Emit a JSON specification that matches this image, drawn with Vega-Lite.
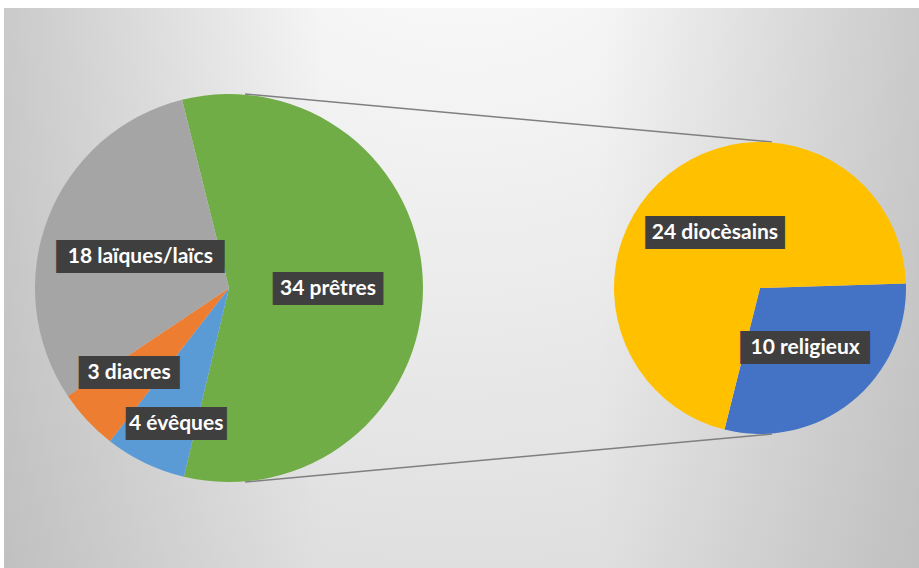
{
  "$schema": "https://vega.github.io/schema/vega-lite/v6.json",
  "width": 915,
  "height": 560,
  "autosize": {"type": "none"},
  "padding": {"left": 4, "top": 8, "right": 0, "bottom": 0},
  "background": "#ffffff",
  "config": {"view": {"stroke": "#bdbdbd", "strokeWidth": 1}},
  "data": {
    "values": [
      {"vue": "principal", "categorie": "prêtres", "valeur": 34, "ordre": 1, "etiquette": "34 prêtres"},
      {"vue": "principal", "categorie": "évêques", "valeur": 4, "ordre": 2, "etiquette": "4 évêques"},
      {"vue": "principal", "categorie": "diacres", "valeur": 3, "ordre": 3, "etiquette": "3 diacres"},
      {"vue": "principal", "categorie": "laïques/laïcs", "valeur": 18, "ordre": 4, "etiquette": "18 laïques/laïcs"},
      {"vue": "détail", "categorie": "religieux", "valeur": 10, "ordre": 1, "etiquette": "10 religieux"},
      {"vue": "détail", "categorie": "diocèsains", "valeur": 24, "ordre": 2, "etiquette": "24 diocèsains"}
    ]
  },
  "layer": [
    {
      "data": {"values": [{}]},
      "mark": {"type": "rect", "fill": {"gradient": "radial", "x1": 0.5, "y1": 0, "r1": 0, "x2": 0.5, "y2": 0, "r2": 1.1, "stops": [{"offset": 0, "color": "#ffffff"}, {"offset": 1, "color": "#d4d4d4"}]}},
      "encoding": {}
    },
    {
      "data": {"values": [{}]},
      "mark": {"type": "rect", "fill": {"gradient": "linear", "x1": 0, "y1": 0, "x2": 1, "y2": 0, "stops": [{"offset": 0, "color": "rgba(150,150,150,0.38)"}, {"offset": 0.35, "color": "rgba(150,150,150,0)"}, {"offset": 0.65, "color": "rgba(150,150,150,0)"}, {"offset": 1, "color": "rgba(150,150,150,0.38)"}]}},
      "encoding": {}
    },
    {
      "data": {"values": [{}]},
      "mark": {"type": "rule", "color": "#7f7f7f", "strokeWidth": 1.5, "xOffset": 16, "x2Offset": 12},
      "encoding": {
        "x": {"datum": "principal", "type": "nominal", "scale": {"type": "point", "domain": ["principal", "détail"], "range": [225, 756], "padding": 0}, "axis": null},
        "x2": {"datum": "détail"},
        "y": {"datum": 194, "type": "quantitative", "scale": {"domain": [-280, 280]}, "axis": null},
        "y2": {"datum": 146}
      }
    },
    {
      "data": {"values": [{}]},
      "mark": {"type": "rule", "color": "#7f7f7f", "strokeWidth": 1.5, "xOffset": 16, "x2Offset": 12},
      "encoding": {
        "x": {"datum": "principal", "type": "nominal", "scale": {"type": "point", "domain": ["principal", "détail"], "range": [225, 756], "padding": 0}, "axis": null},
        "x2": {"datum": "détail"},
        "y": {"datum": -194, "type": "quantitative", "scale": {"domain": [-280, 280]}, "axis": null},
        "y2": {"datum": -146}
      }
    },
    {
      "transform": [{"filter": "datum.vue === 'principal'"}],
      "mark": {"type": "arc", "outerRadius": 194},
      "encoding": {
        "x": {"field": "vue", "type": "nominal", "scale": {"type": "point", "domain": ["principal", "détail"], "range": [225, 756], "padding": 0}, "axis": null},
        "theta": {"field": "valeur", "type": "quantitative", "stack": true, "scale": {"range": [-0.24435, 6.03884]}},
        "order": {"field": "ordre", "type": "quantitative"},
        "color": {"field": "categorie", "type": "nominal", "legend": null, "scale": {"domain": ["prêtres", "évêques", "diacres", "laïques/laïcs", "religieux", "diocèsains"], "range": ["#70AD47", "#5B9BD5", "#ED7D31", "#A5A5A5", "#4472C4", "#FFC000"]}}
      }
    },
    {
      "transform": [{"filter": "datum.vue === 'principal'"}],
      "mark": {"type": "text", "text": {"expr": "replace(datum.etiquette, regexp('.', 'g'), '█')"}, "radius": {"expr": "datum.categorie === 'prêtres' ? 99 : datum.categorie === 'laïques/laïcs' ? 95 : datum.categorie === 'diacres' ? 131 : 145"}, "dx": {"expr": "datum.categorie === 'évêques' ? 10 : datum.categorie === 'diacres' ? -4 : 0"}, "dy": {"expr": "datum.categorie === 'évêques' ? 5 : datum.categorie === 'diacres' ? -4 : datum.categorie === 'laïques/laïcs' ? 3 : 1"}, "font": "DejaVu Sans Mono", "fontSize": 16, "fill": "#3f3f3f", "stroke": "#3f3f3f", "strokeWidth": 14, "strokeJoin": "miter", "align": "center", "baseline": "middle"},
      "encoding": {
        "x": {"field": "vue", "type": "nominal", "scale": {"type": "point", "domain": ["principal", "détail"], "range": [225, 756], "padding": 0}, "axis": null},
        "theta": {"field": "valeur", "type": "quantitative", "stack": true, "scale": {"range": [-0.24435, 6.03884]}},
        "order": {"field": "ordre", "type": "quantitative"}
      }
    },
    {
      "transform": [{"filter": "datum.vue === 'principal'"}],
      "mark": {"type": "text", "radius": {"expr": "datum.categorie === 'prêtres' ? 99 : datum.categorie === 'laïques/laïcs' ? 95 : datum.categorie === 'diacres' ? 131 : 145"}, "dx": {"expr": "datum.categorie === 'évêques' ? 10 : datum.categorie === 'diacres' ? -4 : 0"}, "dy": {"expr": "datum.categorie === 'évêques' ? 5 : datum.categorie === 'diacres' ? -4 : datum.categorie === 'laïques/laïcs' ? 3 : 1"}, "font": "Lato", "fontWeight": "bold", "fontSize": 21, "fill": "#ffffff", "align": "center", "baseline": "middle"},
      "encoding": {
        "x": {"field": "vue", "type": "nominal", "scale": {"type": "point", "domain": ["principal", "détail"], "range": [225, 756], "padding": 0}, "axis": null},
        "theta": {"field": "valeur", "type": "quantitative", "stack": true, "scale": {"range": [-0.24435, 6.03884]}},
        "order": {"field": "ordre", "type": "quantitative"},
        "text": {"field": "etiquette", "type": "nominal"}
      }
    },
    {
      "transform": [{"filter": "datum.vue === 'détail'"}],
      "mark": {"type": "arc", "outerRadius": 146},
      "encoding": {
        "x": {"field": "vue", "type": "nominal", "scale": {"type": "point", "domain": ["principal", "détail"], "range": [225, 756], "padding": 0}, "axis": null},
        "theta": {"field": "valeur", "type": "quantitative", "stack": true, "scale": {"range": [1.5394, 7.8226]}},
        "order": {"field": "ordre", "type": "quantitative"},
        "color": {"field": "categorie", "type": "nominal", "legend": null, "scale": {"domain": ["prêtres", "évêques", "diacres", "laïques/laïcs", "religieux", "diocèsains"], "range": ["#70AD47", "#5B9BD5", "#ED7D31", "#A5A5A5", "#4472C4", "#FFC000"]}}
      }
    },
    {
      "transform": [{"filter": "datum.vue === 'détail'"}],
      "mark": {"type": "text", "text": {"expr": "replace(datum.etiquette, regexp('.', 'g'), '█')"}, "radius": {"expr": "datum.categorie === 'religieux' ? 72 : 75"}, "dx": {"expr": "datum.categorie === 'religieux' ? 0 : 2"}, "dy": {"expr": "datum.categorie === 'religieux' ? 4 : 3"}, "font": "DejaVu Sans Mono", "fontSize": 16, "fill": "#3f3f3f", "stroke": "#3f3f3f", "strokeWidth": 14, "strokeJoin": "miter", "align": "center", "baseline": "middle"},
      "encoding": {
        "x": {"field": "vue", "type": "nominal", "scale": {"type": "point", "domain": ["principal", "détail"], "range": [225, 756], "padding": 0}, "axis": null},
        "theta": {"field": "valeur", "type": "quantitative", "stack": true, "scale": {"range": [1.5394, 7.8226]}},
        "order": {"field": "ordre", "type": "quantitative"}
      }
    },
    {
      "transform": [{"filter": "datum.vue === 'détail'"}],
      "mark": {"type": "text", "radius": {"expr": "datum.categorie === 'religieux' ? 72 : 75"}, "dx": {"expr": "datum.categorie === 'religieux' ? 0 : 2"}, "dy": {"expr": "datum.categorie === 'religieux' ? 4 : 3"}, "font": "Lato", "fontWeight": "bold", "fontSize": 21, "fill": "#ffffff", "align": "center", "baseline": "middle"},
      "encoding": {
        "x": {"field": "vue", "type": "nominal", "scale": {"type": "point", "domain": ["principal", "détail"], "range": [225, 756], "padding": 0}, "axis": null},
        "theta": {"field": "valeur", "type": "quantitative", "stack": true, "scale": {"range": [1.5394, 7.8226]}},
        "order": {"field": "ordre", "type": "quantitative"},
        "text": {"field": "etiquette", "type": "nominal"}
      }
    }
  ],
  "resolve": {"scale": {"theta": "independent"}}
}
